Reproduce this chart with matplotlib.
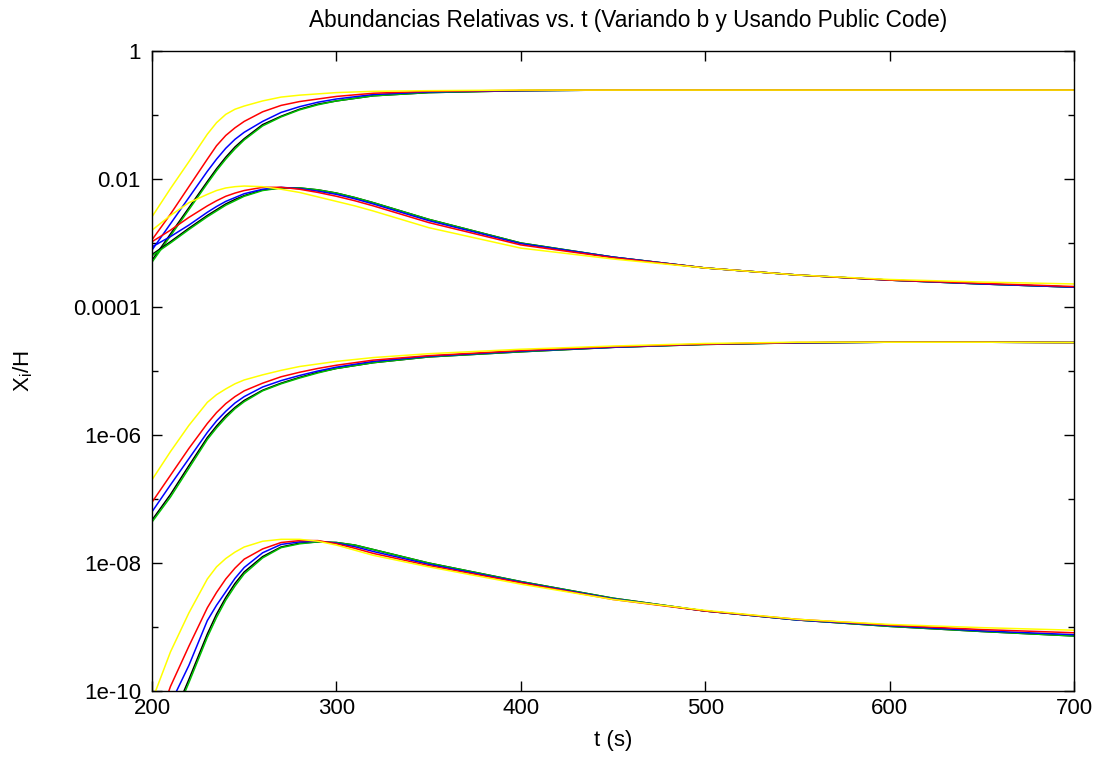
import numpy as np
import matplotlib
matplotlib.use('Agg')
import matplotlib.pyplot as plt
from matplotlib.ticker import FixedLocator, NullFormatter

plt.rcParams['font.family'] = ['Liberation Sans', 'DejaVu Sans']

# tiempos (s)
t = [200, 210, 220, 230, 235, 240, 245, 250, 260, 270, 280, 290, 300, 310, 320, 350, 400, 450, 500, 550, 600, 650, 700]

# log10(X_i/H), 4 especies x 5 valores de b
# especie 1 (meseta ~0.25)
s1_yellow = [-2.59, -2.15, -1.73, -1.30, -1.12, -0.99, -0.91, -0.86, -0.78, -0.72, -0.69, -0.67, -0.65, -0.64, -0.63, -0.62, -0.61, -0.61, -0.61, -0.61, -0.61, -0.61, -0.61]
s1_red    = [-2.95, -2.55, -2.12, -1.69, -1.48, -1.32, -1.20, -1.10, -0.95, -0.85, -0.79, -0.75, -0.71, -0.685, -0.66, -0.63, -0.615, -0.61, -0.61, -0.61, -0.61, -0.61, -0.61]
s1_blue   = [-3.11, -2.70, -2.29, -1.88, -1.69, -1.52, -1.38, -1.27, -1.10, -0.96, -0.87, -0.80, -0.75, -0.715, -0.68, -0.64, -0.62, -0.61, -0.61, -0.61, -0.61, -0.61, -0.61]
s1_black  = [-3.27, -2.86, -2.45, -2.04, -1.84, -1.66, -1.50, -1.37, -1.15, -1.02, -0.91, -0.83, -0.78, -0.74, -0.70, -0.65, -0.62, -0.61, -0.61, -0.61, -0.61, -0.61, -0.61]
s1_green  = [-3.30, -2.89, -2.48, -2.07, -1.87, -1.69, -1.53, -1.39, -1.17, -1.03, -0.92, -0.84, -0.78, -0.74, -0.70, -0.65, -0.62, -0.61, -0.61, -0.61, -0.61, -0.61, -0.61]

# especie 2 (pico ~0.0078)
s2_yellow = [-2.80, -2.57, -2.37, -2.24, -2.18, -2.14, -2.12, -2.11, -2.12, -2.16, -2.21, -2.28, -2.35, -2.42, -2.50, -2.76, -3.08, -3.25, -3.39, -3.50, -3.57, -3.61, -3.64]
s2_red    = [-2.98, -2.80, -2.60, -2.42, -2.34, -2.27, -2.22, -2.18, -2.13, -2.13, -2.16, -2.21, -2.27, -2.34, -2.42, -2.68, -3.03, -3.23, -3.39, -3.50, -3.58, -3.63, -3.68]
s2_blue   = [-3.06, -2.90, -2.72, -2.52, -2.43, -2.35, -2.29, -2.23, -2.16, -2.13, -2.15, -2.19, -2.24, -2.31, -2.39, -2.65, -3.01, -3.22, -3.39, -3.50, -3.58, -3.64, -3.69]
s2_black  = [-3.18, -2.98, -2.77, -2.57, -2.48, -2.39, -2.32, -2.26, -2.17, -2.14, -2.14, -2.17, -2.22, -2.29, -2.37, -2.63, -3.00, -3.22, -3.39, -3.50, -3.58, -3.64, -3.69]
s2_green  = [-3.20, -3.00, -2.79, -2.59, -2.50, -2.41, -2.34, -2.27, -2.18, -2.14, -2.14, -2.17, -2.22, -2.29, -2.37, -2.63, -3.00, -3.22, -3.39, -3.50, -3.58, -3.64, -3.69]

# especie 3 (meseta ~2.8e-5)
s3_yellow = [-6.70, -6.26, -5.85, -5.49, -5.37, -5.28, -5.20, -5.14, -5.06, -4.99, -4.93, -4.89, -4.85, -4.82, -4.79, -4.73, -4.66, -4.61, -4.57, -4.55, -4.55, -4.55, -4.555]
s3_red    = [-7.05, -6.63, -6.21, -5.82, -5.65, -5.51, -5.40, -5.31, -5.19, -5.09, -5.02, -4.96, -4.91, -4.87, -4.83, -4.76, -4.68, -4.62, -4.58, -4.555, -4.55, -4.55, -4.555]
s3_blue   = [-7.20, -6.78, -6.37, -5.96, -5.78, -5.63, -5.50, -5.40, -5.25, -5.15, -5.07, -5.00, -4.94, -4.895, -4.85, -4.77, -4.69, -4.63, -4.58, -4.56, -4.55, -4.55, -4.555]
s3_black  = [-7.33, -6.93, -6.48, -6.04, -5.86, -5.70, -5.57, -5.46, -5.30, -5.19, -5.10, -5.02, -4.96, -4.915, -4.87, -4.78, -4.70, -4.63, -4.585, -4.56, -4.55, -4.55, -4.555]
s3_green  = [-7.36, -6.97, -6.52, -6.07, -5.89, -5.73, -5.59, -5.48, -5.31, -5.20, -5.11, -5.03, -4.96, -4.915, -4.87, -4.78, -4.70, -4.63, -4.585, -4.56, -4.55, -4.55, -4.555]

# especie 4 (pico ~2.3e-8)
s4_yellow = [-10.15, -9.39, -8.78, -8.25, -8.06, -7.93, -7.83, -7.75, -7.66, -7.63, -7.63, -7.66, -7.72, -7.80, -7.88, -8.06, -8.33, -8.57, -8.74, -8.88, -8.96, -9.01, -9.05]
s4_red    = [-10.75, -9.93, -9.30, -8.70, -8.46, -8.25, -8.08, -7.94, -7.78, -7.68, -7.65, -7.65, -7.70, -7.77, -7.85, -8.04, -8.31, -8.57, -8.75, -8.88, -8.97, -9.04, -9.09]
s4_blue   = [-11.00, -10.20, -9.60, -8.90, -8.66, -8.45, -8.24, -8.07, -7.84, -7.71, -7.67, -7.66, -7.69, -7.745, -7.82, -8.02, -8.30, -8.56, -8.75, -8.89, -8.98, -9.06, -9.12]
s4_black  = [-11.15, -10.50, -9.82, -9.11, -8.80, -8.54, -8.32, -8.14, -7.90, -7.75, -7.69, -7.67, -7.68, -7.72, -7.79, -8.00, -8.29, -8.55, -8.75, -8.89, -8.99, -9.07, -9.14]
s4_green  = [-11.20, -10.55, -9.87, -9.16, -8.85, -8.58, -8.36, -8.17, -7.92, -7.76, -7.70, -7.67, -7.68, -7.72, -7.79, -8.00, -8.29, -8.55, -8.75, -8.89, -8.99, -9.07, -9.14]

colores = {'black': '#000000', 'green': '#00c000', 'blue': '#0000ff', 'red': '#ff0000', 'yellow': '#ffff00'}

y_ticks = [1, 1e-2, 1e-4, 1e-6, 1e-8, 1e-10]
y_ticklabels = ['1', '0.01', '0.0001', '1e-06', '1e-08', '1e-10']
y_minor = [1e-1, 1e-3, 1e-5, 1e-7, 1e-9]
x_ticks = [200, 300, 400, 500, 600, 700]

fig = plt.figure(figsize=(11.02, 7.61), dpi=100)
ax = fig.add_axes([152/1102, 1 - 691/761, (1074-152)/1102, (691-51)/761])

series = [
    (s1_black, s1_green, s1_blue, s1_red, s1_yellow),
    (s2_black, s2_green, s2_blue, s2_red, s2_yellow),
    (s3_black, s3_green, s3_blue, s3_red, s3_yellow),
    (s4_black, s4_green, s4_blue, s4_red, s4_yellow),
]
orden = ['black', 'green', 'blue', 'red', 'yellow']

for grupo in series:
    for nombre, datos in zip(orden, grupo):
        ax.plot(t, 10.0 ** np.array(datos), color=colores[nombre], lw=1.1)

ax.set_yscale('log')
ax.set_xlim(200, 700)
ax.set_ylim(1e-10, 1)

ax.yaxis.set_major_locator(FixedLocator(y_ticks))
ax.set_yticklabels(y_ticklabels)
ax.yaxis.set_minor_locator(FixedLocator(y_minor))
ax.yaxis.set_minor_formatter(NullFormatter())
ax.set_xticks(x_ticks)
ax.xaxis.set_minor_locator(FixedLocator([]))

ax.tick_params(which='both', direction='in', top=True, right=True, width=1.0, labelsize=16)
ax.tick_params(axis='y', pad=8)
ax.tick_params(axis='x', pad=5)
ax.tick_params(which='major', length=7)
ax.tick_params(which='minor', length=4)
for s in ax.spines.values():
    s.set_linewidth(1.0)

ax.set_title('Abundancias Relativas vs. t (Variando b y Usando Public Code)', fontsize=16.3, pad=17, x=0.516)
ax.set_xlabel('t (s)', fontsize=16, labelpad=8)
ax.set_ylabel(r'$\mathregular{X_i/H}$', fontsize=16, labelpad=27)

fig.savefig('out.png', dpi=100)
